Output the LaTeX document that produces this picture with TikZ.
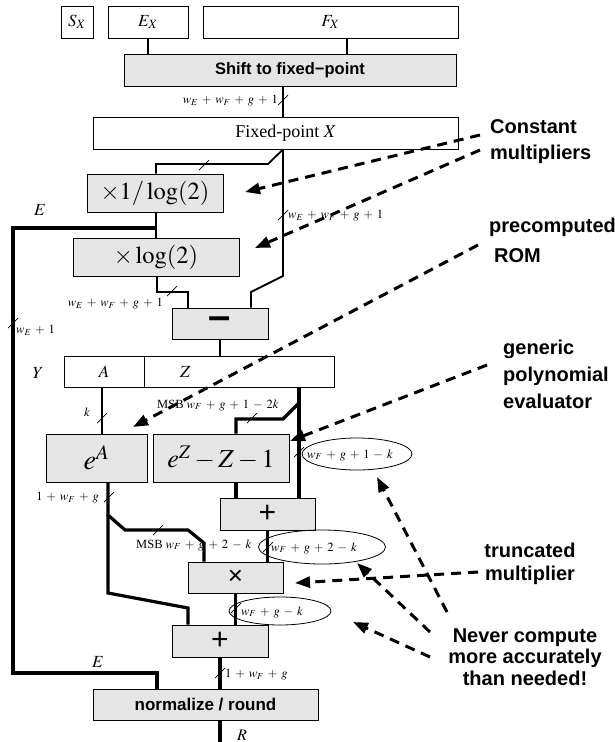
\documentclass[tikz,border=0pt]{standalone}
\usepackage{mathptmx}
\usepackage{fontspec}
\setmainfont{Liberation Serif}
\setsansfont{Liberation Sans}
\usetikzlibrary{arrows.meta,shapes.geometric}
\newcommand{\tkmark}[2]{\draw[tickl] (#1-5,#2+5) -- (#1+5,#2-5);}
\newcommand{\fsz}[1]{\fontsize{#1}{#1}\selectfont}
\newcommand{\labfont}{\fsz{12.5}\medmuskip=5.5mu\relax}
\newcommand{\notefont}[1]{\sffamily\bfseries\fontsize{20}{#1}\selectfont}
\begin{document}
\begin{tikzpicture}[x=1pt,y=-1pt,
  wbox/.style={draw,line width=0.8pt,fill=white,inner sep=0pt},
  gbox/.style={wbox,fill=gray!20},
  med/.style={line width=1.8pt},
  thk/.style={line width=3.2pt},
  tickl/.style={line width=0.7pt},
  dsh/.style={line width=3pt,dash pattern=on 10pt off 7pt,-{Triangle[length=15pt,width=11pt]}},
  lab/.style={inner sep=0pt,font=\labfont},
  bigl/.style={inner sep=0pt,font=\fsz{17}},
  note/.style={inner sep=0pt},
  ell/.style={draw,ellipse,line width=0.8pt,inner sep=0pt}]
\useasboundingbox (0,0) rectangle (615,742);
% top fields
\node[wbox,minimum width=32pt,minimum height=32pt,font=\fsz{17}] (SX) at (77,22) {$S_X$};
\node[wbox,minimum width=80pt,minimum height=32pt,font=\fsz{17}] (EX) at (148,22) {$E_X$};
\node[wbox,minimum width=255pt,minimum height=32pt,font=\fsz{17}] (FX) at (330.5,22) {$F_X$};
\node[gbox,minimum width=332pt,minimum height=32pt,font=\sffamily\bfseries\fsz{16.5}] (shift) at (290,70) {Shift to fixed−point};
\node[wbox,minimum width=365pt,minimum height=32pt,font=\fsz{18}] (fixed) at (275.5,133) {\hspace*{21pt}Fixed-point $X$};
\node[gbox,minimum width=136pt,minimum height=38pt,font=\fsz{24.5}] (mulinv) at (155,193) {$\times 1/\log(2)$};
\node[gbox,minimum width=166pt,minimum height=38pt,font=\fsz{24.5}] (mullog) at (156,257) {$\times\log(2)$};
\node[gbox,minimum width=96pt,minimum height=31pt,font=\sffamily\bfseries\fsz{40},text depth=-8.9pt] (minus) at (220,323.5) {–};
\node[wbox,minimum width=80pt,minimum height=31pt,font=\fsz{17}] (Ya) at (104,371.5) {$A$};
\node[wbox,minimum width=190pt,minimum height=31pt,font=\fsz{17},text width=170pt,align=left] (Yz) at (239,371.5) {\hspace*{26pt}$Z$};
\node[gbox,minimum width=101pt,minimum height=48pt,font=\fsz{28}] (eA) at (96.5,458) {$e^A$};
\node[gbox,minimum width=136pt,minimum height=48pt,font=\fsz{26}] (eZ) at (221,458) {$e^Z-Z-1$};
\node[gbox,minimum width=95pt,minimum height=32pt,font=\sffamily\fsz{30}] (plus1) at (267.5,514) {+};
\node[gbox,minimum width=95pt,minimum height=31pt,font=\sffamily\fsz{26}] (times) at (235.5,577.5) {×};
\node[gbox,minimum width=96pt,minimum height=32pt,font=\sffamily\fsz{30}] (plus2) at (220,641) {+};
\node[gbox,minimum width=225pt,minimum height=31pt,font=\sffamily\bfseries\fsz{17}] (norm) at (205.5,704.5) {normalize / round};
% ellipses
\node[ell,minimum width=110pt,minimum height=32pt] (el1) at (357,454) {};
\node[ell,minimum width=127pt,minimum height=34pt] (el2) at (322,547) {};
\node[ell,minimum width=102pt,minimum height=28pt] (el3) at (280,611) {};
\node[lab] (el1t) at (350,455) {$w_F+g+1-k$};
\node[lab] (el2t) at (314,548) {$w_F+g+2-k$};
\node[lab] (el3t) at (272,612) {$w_F+g-k$};
% connectors
\draw[med] (EX.south) -- (EX.south |- shift.north);
\draw[med] ([xshift=16.5pt]FX.south) -- ([xshift=16.5pt]FX.south |- shift.north);
\draw[med] ([xshift=-7pt]shift.south) -- ([xshift=-7pt]shift.south |- fixed.north);
\draw[med] ([xshift=7.5pt]fixed.south) -- (283,276) -- (251,292) -- ([xshift=31pt]minus.north);
\draw[med] ([xshift=7.5pt]fixed.south) -- (268,164) -- (156,164) -- ([xshift=1pt]mulinv.north);
\draw[med] ([xshift=1pt]mulinv.south) -- (mullog.north);
\coordinate (ej) at (156,228);
\draw[thk] (ej) -- (13,228) -- (13,673) -- (157,673) -- ([xshift=-48.5pt]norm.north);
\draw[med] ([xshift=1pt]mullog.south) -- (157,292) -- (188,292) -- ([xshift=-32pt]minus.north);
\draw[med] (minus.south) -- (minus.south |- Yz.north);
\draw[med] ([xshift=-2pt]Ya.south) -- ([xshift=-2pt]Ya.south |- eA.north);
\draw[thk] ([xshift=60pt]Yz.south) -- ([xshift=60pt]Yz.south |- plus1.north);
\coordinate (zj) at (299,403);
\draw[thk] (zj) -- (283,419) -- (236,419) -- ([xshift=15pt]eZ.north);
\draw[thk] ([xshift=15pt]eZ.south) -- ([xshift=15pt]eZ.south |- plus1.north);
\coordinate (aj) at (108,515);
\draw[thk] ([xshift=11.5pt]eA.south) -- (aj) -- (125,530) -- (188,530) -- (204,543) -- ([xshift=-31.5pt]times.north);
\draw[thk] (aj) -- (108,593) -- (188,608) -- ([xshift=-32pt]plus2.north);
\draw[thk] (plus1.south) -- (plus1.south |- times.north);
\draw[thk] (times.south) -- (times.south |- plus2.north);
\draw[thk] (plus2.south) -- (plus2.south |- norm.north);
\coordinate (Rend) at (220,742);
\draw[thk] ([xshift=14.5pt]norm.south) -- (Rend);
% ticks
\tkmark{283}{100}\tkmark{204}{165}\tkmark{283}{215}\tkmark{172}{291}
\tkmark{13}{323}\tkmark{102}{418}\tkmark{252}{418}\tkmark{299}{452}
\tkmark{109}{497}\tkmark{158}{530}\tkmark{268}{547}\tkmark{236}{608}
\tkmark{220}{673}
% labels
\node[lab,anchor=east] (l1) at (278,101) {$w_E+w_F+g+1$};
\node[lab,anchor=west] (l2) at (288,216) {$w_E+w_F+g+1$};
\node[lab,anchor=east] (l3) at (163,304) {$w_E+w_F+g+1$};
\node[lab,anchor=west] (l4) at (16,330) {$w_E+1$};
\node[bigl] (lE1) at (40,210) {$E$};
\node[bigl] (lY) at (38,373) {$Y$};
\node[lab] (lk) at (87,412) {$k$};
\node[lab,anchor=west] (l8) at (157,405) {MSB $w_F+g+1-2k$};
\node[lab,anchor=east] (l9) at (99,498) {$1+w_F+g$};
\node[lab,anchor=west] (l10) at (136,545) {MSB $w_F+g+2-k$};
\node[bigl] (lE2) at (98,662) {$E$};
\node[lab,anchor=west] (l12) at (225,675) {$1+w_F+g$};
\node[bigl,font=\fsz{16}] (lR) at (242,735) {$R$};
% annotations (base = last line)
\node[note,font=\notefont{26},anchor=base west,align=left] (nC) at (490,159) {Constant\\multipliers};
\node[note,font=\notefont{30},anchor=base west,align=left] (nP) at (489,262) {precomputed\\\hspace*{5pt}ROM};
\node[note,font=\notefont{27},anchor=base west,align=left] (nG) at (503,408) {generic\\polynomial\\evaluator};
\node[note,font=\notefont{23},anchor=base,align=center] (nT) at (530,580) {truncated\\multiplier};
\node[note,font=\notefont{21.5},anchor=base,align=center] (nN) at (525,685) {Never compute\\more accurately\\than needed!};
\coordinate (sC1) at (480,135); \coordinate (tC1) at (245,192);
\coordinate (sC2) at (480,150); \coordinate (tC2) at (255,248);
\coordinate (sP) at (478,245); \coordinate (tP) at (133,427);
\coordinate (sG) at (487,365); \coordinate (tG) at (290,441);
\coordinate (sT) at (478,572); \coordinate (tT) at (295,583);
\coordinate (sN1) at (447,612); \coordinate (tN1) at (377,477);
\coordinate (sN2) at (430,632); \coordinate (tN2) at (357,563);
\coordinate (sN3) at (430,657); \coordinate (tN3) at (353,622);
\draw[dsh] (sC1) -- (tC1);
\draw[dsh] (sC2) -- (tC2);
\draw[dsh] (sP) -- (tP);
\draw[dsh] (sG) -- (tG);
\draw[dsh] (sT) -- (tT);
\draw[dsh] (sN1) -- (tN1);
\draw[dsh] (sN2) -- (tN2);
\draw[dsh] (sN3) -- (tN3);
\end{tikzpicture}
\end{document}
